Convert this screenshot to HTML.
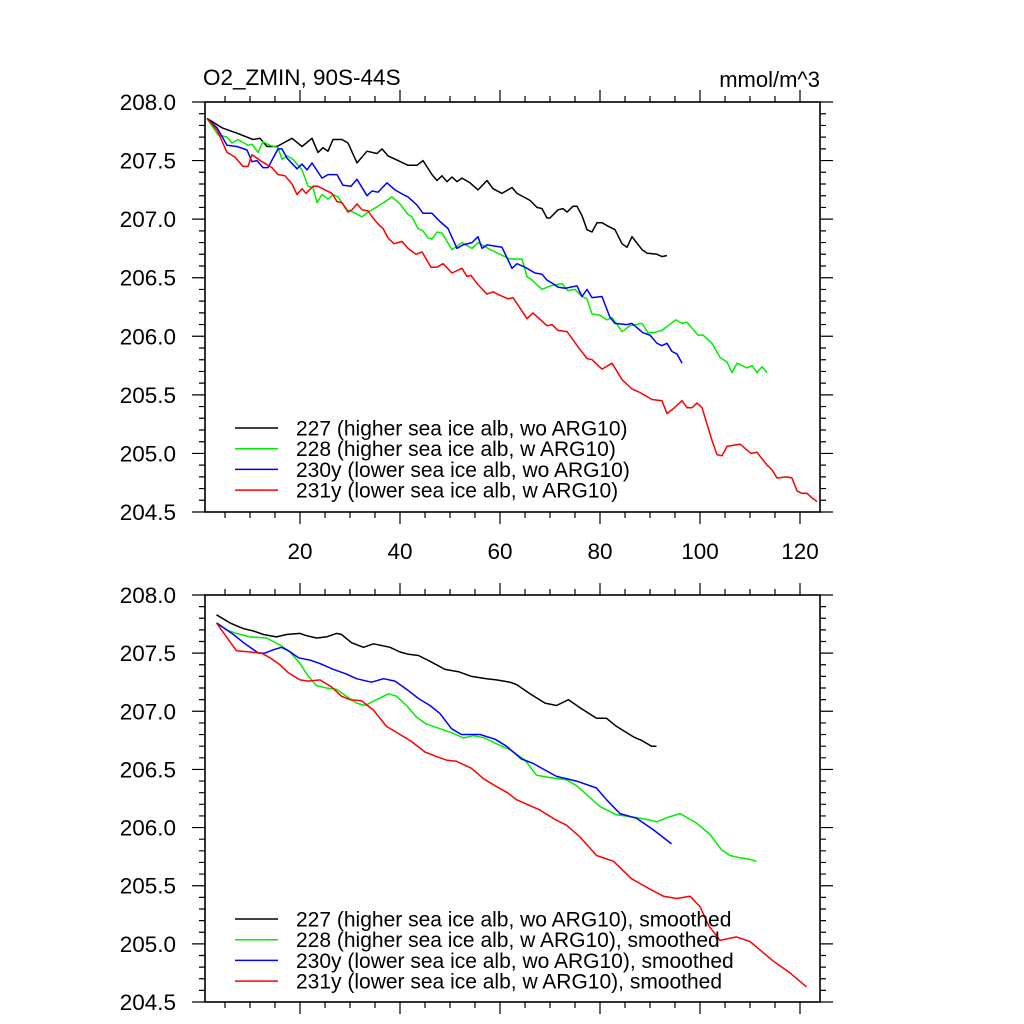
<!DOCTYPE html>
<html><head><meta charset="utf-8"><style>
html,body{margin:0;padding:0;background:#fff}
svg{display:block;font-family:"Liberation Sans",sans-serif}
</style></head><body>
<svg id="c" width="1024" height="1024" viewBox="0 0 1024 1024"></svg>
<script>
const xTop227=[1.4,4.4,7.6,10.6,12,13.4,15.4,18.4,20.4,22.4,23.6,24.6,25.6,26.6,28.4,29.6,31.4,33.4,35.4,36.4,37.6,39.6,41.6,43.4,44.6,46.4,47.4,48.4,49.4,50.4,51.4,52.4,54,55.6,57.4,58.6,60.4,62.4,63.4,66,67.4,68.4,69.4,70,71.6,72.6,73.4,74.6,75.4,76.4,77.4,78.4,79.4,80.4,81.6,83,84.4,85.4,86.4,88.4,89.4,91.4,92.4,93.4];
const yTop227=[207.86,207.78,207.73,207.68,207.69,207.62,207.62,207.69,207.62,207.69,207.57,207.61,207.58,207.68,207.68,207.65,207.48,207.58,207.56,207.6,207.54,207.5,207.46,207.46,207.5,207.38,207.33,207.37,207.32,207.36,207.32,207.35,207.31,207.25,207.33,207.26,207.22,207.27,207.22,207.16,207.1,207.09,207.01,207.01,207.08,207.09,207.06,207.11,207.11,207.03,206.91,206.89,206.97,206.97,206.94,206.91,206.79,206.76,206.85,206.74,206.71,206.7,206.68,206.69];
const xTop228=[1.4,3.6,5.4,6.4,7.6,9.6,10.4,11.6,12.6,14,15.6,16.4,17.4,18.6,20.4,21.6,22.6,23.4,24.4,25.6,26.6,27.6,29.4,30.6,32.4,33.6,35.6,37,38.4,40,41.6,42.4,43.6,44.6,45.6,46.4,47.4,48.4,50.4,52.4,54.4,55.6,57.6,60,62,64.4,65.4,66.4,68.4,70,72.4,73.6,75,76.4,77.4,78.4,80,81.4,82.4,84.4,86,88.4,89.6,90.6,92.4,93.6,95.2,96.4,97.4,99.6,100.6,102.4,104,105.4,106.4,107.4,109.4,110.4,111.4,112.4,113.4];
const yTop228=[207.86,207.72,207.7,207.65,207.68,207.63,207.64,207.57,207.66,207.63,207.61,207.51,207.54,207.51,207.42,207.28,207.27,207.14,207.21,207.17,207.21,207.19,207.08,207.06,207.02,207.06,207.11,207.15,207.19,207.13,207.04,207.02,206.92,206.9,206.84,206.83,206.89,206.88,206.74,206.8,206.75,206.8,206.75,206.7,206.66,206.66,206.51,206.48,206.4,206.43,206.45,206.39,206.4,206.34,206.32,206.19,206.18,206.14,206.16,206.04,206.09,206.11,206.03,206.03,206.05,206.09,206.14,206.11,206.12,206.01,206.01,205.94,205.82,205.78,205.69,205.77,205.73,205.75,205.69,205.74,205.69];
const xTop230=[1.4,3.4,5.4,7.4,9.4,10.4,11.4,12.6,13.6,15.6,16.4,17.4,19.4,20.4,21.4,22.4,24.4,25.6,27.4,28.6,30.2,31.4,33.4,34.4,35.6,37.4,39,40.6,41.6,43.4,44.6,46.4,48,49.6,51.4,52.6,54.4,55.6,56.4,57.4,60.4,62.4,63.4,65,67,68.4,69.4,70.6,71.6,73,75.4,76.4,77.4,78.4,80.4,82,83,85.4,86.4,88.6,90,91.4,92.4,93.4,94.4,95.4,96.4];
const yTop230=[207.86,207.78,207.63,207.62,207.59,207.49,207.5,207.44,207.44,207.6,207.6,207.52,207.43,207.47,207.42,207.48,207.35,207.38,207.38,207.29,207.28,207.34,207.2,207.24,207.23,207.31,207.25,207.21,207.19,207.12,207.05,207.05,206.98,206.92,206.75,206.78,206.8,206.85,206.75,206.78,206.76,206.58,206.62,206.59,206.54,206.53,206.48,206.45,206.42,206.41,206.43,206.34,206.4,206.33,206.34,206.16,206.11,206.1,206.11,206.03,206.01,205.94,205.92,205.94,205.87,205.85,205.77];
const xTop231=[1.4,3.4,5.4,7,8.6,9.6,10.4,12.4,14.4,15.6,17,18.4,19.4,20.4,21.2,22.6,23.6,25,26.4,27.4,28.4,29.6,30.4,31.4,32.4,33.6,34.6,35.8,36.6,37.6,38.8,40.4,41.6,43.2,44.4,46.2,47.4,48.6,50.4,52.4,53.4,54.2,55.4,57.4,58.6,60,61.6,62.6,65.4,66.6,69.4,70.4,71.6,73.4,75.6,77.4,78.4,80.4,82.4,84.4,86.4,88,90.4,92.4,93.4,94.6,96.4,97.4,98.4,99.4,100.4,102.4,103.4,104.4,105.4,108,110.2,111.4,113.4,114.4,115.4,117.4,118.4,119.4,120.4,121.4,122.4,123.4];
const yTop231=[207.86,207.76,207.57,207.53,207.45,207.45,207.55,207.49,207.44,207.38,207.37,207.3,207.21,207.26,207.22,207.28,207.28,207.25,207.22,207.15,207.14,207.06,207.08,207.13,207.08,207.07,207.01,206.95,206.92,206.84,206.79,206.81,206.75,206.7,206.72,206.59,206.59,206.62,206.54,206.58,206.51,206.52,206.45,206.36,206.38,206.35,206.32,206.33,206.15,206.2,206.09,206.1,206.05,206.04,205.91,205.81,205.8,205.72,205.77,205.63,205.55,205.52,205.46,205.45,205.34,205.38,205.45,205.39,205.39,205.43,205.39,205.11,204.99,204.98,205.06,205.08,205,205.01,204.9,204.86,204.79,204.8,204.79,204.68,204.66,204.66,204.62,204.59];
const xBot227=[3.3,6,8.7,10.7,12.7,15.3,17.3,20,21.3,23.3,25.3,27.3,28.3,30.3,32.7,34.7,38,40,41.7,43.7,46,49,51.7,54.3,57.3,59.3,62,63.3,66,69,71.3,73.7,76,79.3,81.3,83.3,86.7,88.3,90.3,91.3];
const yBot227=[207.83,207.76,207.71,207.69,207.66,207.64,207.66,207.67,207.65,207.63,207.64,207.67,207.66,207.59,207.55,207.58,207.55,207.51,207.49,207.48,207.43,207.36,207.34,207.3,207.28,207.27,207.25,207.23,207.15,207.07,207.05,207.1,207.03,206.94,206.94,206.87,206.78,206.75,206.7,206.7];
const xBot228=[3.3,5.3,7.3,10,13.3,16,18,20,21.7,23.3,25.3,27.3,29.3,31.3,33,35.3,37.7,39.3,41.3,43.3,45.3,48,50.7,52.7,54.7,57,59.3,62,65,67.3,70,73.3,75.3,77.7,80,83.3,86.7,89.3,91.3,93.7,96,99.3,102,104.3,106,108,109.7,111.3];
const yBot228=[207.76,207.7,207.67,207.64,207.63,207.57,207.51,207.41,207.3,207.22,207.2,207.19,207.13,207.07,207.05,207.1,207.15,207.13,207.05,206.95,206.89,206.85,206.81,206.77,206.79,206.77,206.72,206.67,206.58,206.45,206.43,206.41,206.36,206.27,206.18,206.11,206.09,206.07,206.05,206.09,206.12,206.04,205.94,205.81,205.76,205.74,205.73,205.71];
const xBot230=[3.3,6.7,9,11.7,13,14.7,16.3,17.7,19.7,22,24,26.7,29.3,31.3,34.3,36.7,39,41.3,43.7,46,48,50.3,52.3,56,59,61.3,64.3,66.7,71.3,75.3,79.3,81.3,84,87.3,90.7,94.3];
const yBot230=[207.76,207.66,207.58,207.5,207.5,207.53,207.55,207.52,207.46,207.44,207.41,207.36,207.32,207.28,207.25,207.28,207.26,207.19,207.11,207.05,206.98,206.85,206.8,206.8,206.76,206.7,206.59,206.55,206.44,206.4,206.34,206.24,206.12,206.08,205.98,205.86];
const xBot231=[3.3,5.3,7.3,10,12.3,14,16,17.7,20,21.7,24,26.3,28.3,30,32.3,34.7,37.3,40,42.3,45,47.3,49.3,51.3,54.3,56.7,59,61.5,63.3,68,71,73.3,76,79.3,82.7,86.3,90,92.7,95.3,98,100,101.7,104,107.3,110,114.7,118,121.3];
const yBot231=[207.76,207.64,207.52,207.51,207.5,207.46,207.4,207.33,207.27,207.26,207.27,207.21,207.13,207.1,207.09,207.01,206.87,206.8,206.74,206.65,206.61,206.58,206.57,206.51,206.42,206.36,206.3,206.24,206.15,206.07,206.02,205.92,205.76,205.71,205.56,205.47,205.41,205.39,205.41,205.32,205.16,205.03,205.06,205.02,204.85,204.75,204.63];
const yTicks=[204.5,205.0,205.5,206.0,206.5,207.0,207.5,208.0];
const xTicks=[20,40,60,80,100,120];
const legendTop=["227 (higher sea ice alb, wo ARG10)","228 (higher sea ice alb, w ARG10)","230y (lower sea ice alb, wo ARG10)","231y (lower sea ice alb, w ARG10)"];
const legendBot=["227 (higher sea ice alb, wo ARG10), smoothed","228 (higher sea ice alb, w ARG10), smoothed","230y (lower sea ice alb, wo ARG10), smoothed","231y (lower sea ice alb, w ARG10), smoothed"];
const colors=["#000000","#00ee00","#0000ff","#ff0000"];

const NS="http://www.w3.org/2000/svg";
const svg=document.getElementById('c');
const X0=205,X1=820,XMIN=1,XMAX=124;
function sx(v){return X0+(v-XMIN)/(XMAX-XMIN)*(X1-X0);}
function mk(t,a,p){const e=document.createElementNS(NS,t);for(const k in a)e.setAttribute(k,a[k]);(p||svg).appendChild(e);return e;}

function panel(top,bot,name,xs,ys,legend,legY,showX){
  const g=mk('g',{});
  
  
  const sy=v=>bot-(v-204.5)/3.5*(bot-top);
  const fr=mk('rect',{x:X0,y:top,width:X1-X0,height:bot-top,fill:'none',stroke:'#000','stroke-width':1.6},g);
  
  
  let d='';
  for(let i=0;i<=35;i++){const v=204.5+i*0.1;const y=sy(v);const L=(i%5==0)?13:6;
    d+=`M${X0} ${y}H${X0-L}M${X1} ${y}H${X1+L}`;}
  for(let v=5;v<=120;v+=5){const x=sx(v);const L=(v%20==0)?12:6;
    d+=`M${x} ${top}V${top-L}M${x} ${bot}V${bot+L}`;}
  const tk=mk('path',{d:d,stroke:'#000','stroke-width':1.2,fill:'none'},g);
  
  
  yTicks.forEach(v=>{const t=mk('text',{x:176,y:sy(v)+8,'text-anchor':'end','font-size':22.5},g);t.textContent=v.toFixed(1);
    
    });
  if(showX)xTicks.forEach(v=>{const t=mk('text',{x:sx(v),y:bot+47,'text-anchor':'middle','font-size':22.5},g);t.textContent=v;
    
    });
  xs.forEach((xa,k)=>{const pts=xa.map((x,i)=>sx(x).toFixed(1)+','+sy(ys[k][i]).toFixed(1)).join(' ');
    const pl=mk('polyline',{points:pts,fill:'none',stroke:colors[k],'stroke-width':1.5,'stroke-linejoin':'round'},g);
    
    });
  legend.forEach((s,k)=>{const y=legY+k*20.7;
    const ln=mk('line',{x1:235,x2:278,y1:y,y2:y,stroke:colors[k],'stroke-width':1.5},g);
    
    
    const t=mk('text',{x:296,y:y+7.5,'font-size':21},g);t.textContent=s;
    
    });
}
panel(102,512,'top-panel',[xTop227,xTop228,xTop230,xTop231],[yTop227,yTop228,yTop230,yTop231],legendTop,428,true);
panel(595,1002,'bottom-panel',[xBot227,xBot228,xBot230,xBot231],[yBot227,yBot228,yBot230,yBot231],legendBot,919,false);
const t1=mk('text',{x:203,y:85,'font-size':22.5});t1.textContent='O2_ZMIN, 90S-44S';


const t2=mk('text',{x:820,y:87,'font-size':22,'text-anchor':'end'});t2.textContent='mmol/m^3';


</script>
</body></html>
